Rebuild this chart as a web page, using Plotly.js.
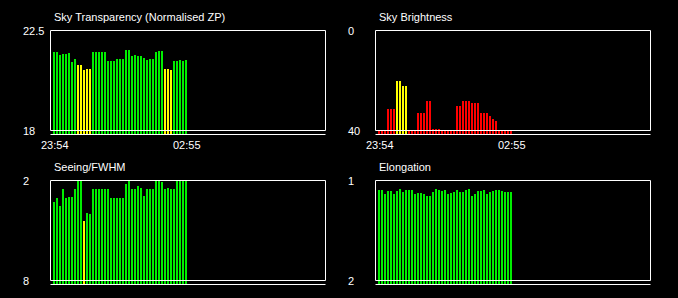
<!DOCTYPE html>
<html>
<head>
<meta charset="utf-8">
<script src="https://cdn.plot.ly/plotly-3.0.1.min.js"></script>
<style>html,body{margin:0;padding:0;background:#000;}#chart{width:678px;height:298px;}</style>
</head>
<body>
<div id="chart"></div>
<script>
// ---- data ----
var timeLabels = ["23:54", "02:55"];
var timeLabelIdx = [0, 44];

var transparency = [21.55,21.55,21.42,21.46,21.46,21.51,21.10,21.24,20.97,20.97,
                    20.74,20.79,20.79,21.55,21.55,21.55,21.55,21.55,21.15,21.15,
                    21.15,21.24,21.24,21.24,21.64,21.64,21.37,21.42,21.37,21.37,
                    21.28,21.19,21.24,21.24,21.55,21.60,21.60,20.79,20.79,20.74,
                    21.15,21.15,21.19,21.15,21.19];
var transparencyFlag = ["g","g","g","g","g","g","g","g","w","w",
                        "w","w","w","g","g","g","g","g","g","g",
                        "g","g","g","g","g","g","g","g","g","g",
                        "g","g","g","g","g","g","g","w","w","w",
                        "g","g","g","g","g"];

var brightness = [40,40,40,31.2,31.2,31.2,20,20,22,22,
                  40,40,40,32.8,32.8,32.8,28,28,39.2,39.2,
                  39.2,40,40,40,40,40,30,30,28,28,
                  28,28.8,28.8,28.8,32.8,32.8,32.8,34,35.2,36,
                  40,40,40,40,40];
var brightnessFlag = ["b","b","b","b","b","b","w","w","w","w",
                      "b","b","b","b","b","b","b","b","b","b",
                      "b","b","b","b","b","b","b","b","b","b",
                      "b","b","b","b","b","b","b","b","b","b",
                      "b","b","b","b","b"];

var seeing = [3.26,3.02,3.50,2.48,3.02,2.96,2.96,2.48,2.00,2.00,
              4.40,3.92,3.98,2.48,2.48,2.48,2.48,2.48,2.48,3.02,
              3.02,3.02,3.02,3.02,2.18,2.00,2.48,2.48,2.30,2.42,
              2.90,2.48,2.48,2.48,2.00,2.00,2.06,2.48,2.42,2.48,
              2.48,2.00,2.00,2.00,2.00];
var seeingFlag = ["g","g","g","g","g","g","g","g","g","g",
                  "w","g","g","g","g","g","g","g","g","g",
                  "g","g","g","g","g","g","g","g","g","g",
                  "g","g","g","g","g","g","g","g","g","g",
                  "g","g","g","g","g"];

var elongation = [1.09,1.09,1.13,1.10,1.10,1.13,1.10,1.08,1.11,1.09,
                  1.09,1.09,1.13,1.12,1.12,1.13,1.15,1.15,1.11,1.08,
                  1.09,1.10,1.09,1.13,1.12,1.11,1.09,1.11,1.11,1.09,
                  1.08,1.15,1.13,1.10,1.10,1.09,1.13,1.11,1.10,1.09,
                  1.09,1.10,1.11,1.11,1.11];
var elongationFlag = elongation.map(function(){ return "g"; });

var titles = ["Sky Transparency (Normalised ZP)", "Sky Brightness", "Seeing/FWHM", "Elongation"];
var axisTop = [22.5, 0, 2, 1];     // value at top of frame
var axisBottom = [18, 40, 8, 2];   // value at bottom of frame
var axisTopLabel = ["22.5", "0", "2", "1"];
var axisBottomLabel = ["18", "40", "8", "2"];

// ---- styling / layout ----
var W = 678, H = 298;
var colorMap = {g: "#00ee00", w: "#ffff00", b: "#ff0000"};
var series = [transparency, brightness, seeing, elongation];
var flags = [transparencyFlag, brightnessFlag, seeingFlag, elongationFlag];
var frameLeft = [50.5, 375.5, 50.5, 375.5];
var frameTop = [30.5, 30.5, 180.5, 180.5];
var frameW = 275, frameH = 100;
var pitch = 3, firstOff = 3.5; // px from frame line to first bar centre
var pad = 2;
var font = "Liberation Sans, Arial, sans-serif";

var data = [], shapes = [], annotations = [];
var layout = {
  width: W, height: H, margin: {l:0, r:0, t:0, b:0},
  paper_bgcolor: "#000", plot_bgcolor: "#000",
  showlegend: false, bargap: 0,
  font: {family: font, size: 11, color: "#fff"}
};

for (var k = 0; k < 4; k++) {
  var n = k + 1;
  var xa = "x" + (k === 0 ? "" : n), ya = "y" + (k === 0 ? "" : n);
  var xKey = "xaxis" + (k === 0 ? "" : n), yKey = "yaxis" + (k === 0 ? "" : n);
  var L = frameLeft[k], T = frameTop[k];
  var c0 = L + firstOff;
  var xv = function(px){ return (px - c0) / pitch; };
  var tv = axisTop[k], bv = axisBottom[k];
  var yv = (function(tv, bv, T){ return function(py){ return tv + (py - T) / frameH * (bv - tv); }; })(tv, bv, T);
  var domX0 = L - pad, domX1 = L + frameW + pad;
  var domYtop = T - pad, domYbot = T + frameH + 4.5;
  layout[xKey] = {domain: [domX0 / W, domX1 / W], range: [xv(domX0), xv(domX1)],
    showgrid: false, zeroline: false, showline: false, showticklabels: false, ticks: "", anchor: ya, fixedrange: true};
  layout[yKey] = {domain: [1 - domYbot / H, 1 - domYtop / H], range: [yv(domYbot), yv(domYtop)],
    showgrid: false, zeroline: false, showline: false, showticklabels: false, ticks: "", anchor: xa, fixedrange: true};
  var base = yv(domYbot + 3);
  var vals = series[k];
  data.push({
    type: "bar", xaxis: xa, yaxis: ya,
    x: vals.map(function(v, i){ return i; }),
    y: vals.map(function(v){ return v - base; }),
    base: base, width: 2 / pitch,
    marker: {color: flags[k].map(function(f){ return colorMap[f]; }), line: {width: 0}},
    hoverinfo: "skip"
  });
  // frame
  shapes.push({type: "rect", xref: xa, yref: ya, x0: xv(L), x1: xv(L + frameW), y0: tv, y1: bv,
    line: {color: "#fff", width: 1}, layer: "above"});
  shapes.push({type: "line", xref: xa, yref: ya, x0: xv(L), x1: xv(L + frameW), y0: yv(T + frameH + 4), y1: yv(T + frameH + 4),
    line: {color: "#fff", width: 1}, layer: "above"});
  // title
  var labX = (k % 2 === 0) ? 21 : 346;
  annotations.push({text: titles[k], xref: "paper", yref: "paper", x: (L + 1.5) / W, y: 1 - (T - 13.5) / H,
    xanchor: "left", yanchor: "middle", showarrow: false, font: {size: 11, color: "#fff"}});
  annotations.push({text: axisTopLabel[k], xref: "paper", yref: ya, x: labX / W, y: tv,
    xanchor: "left", yanchor: "middle", showarrow: false, font: {size: 11, color: "#fff"}});
  annotations.push({text: axisBottomLabel[k], xref: "paper", yref: ya, x: labX / W, y: bv,
    xanchor: "left", yanchor: "middle", showarrow: false, font: {size: 11, color: "#fff"}});
  if (k < 2) {
    for (var j = 0; j < timeLabels.length; j++) {
      annotations.push({text: timeLabels[j], xref: xa, yref: "paper", x: timeLabelIdx[j] + 0.4, y: 1 - (T + frameH + 14.5) / H,
        xanchor: "center", yanchor: "middle", showarrow: false, font: {size: 11, color: "#fff"}});
    }
  }
}
layout.shapes = shapes;
layout.annotations = annotations;
Plotly.newPlot("chart", data, layout, {staticPlot: true, displayModeBar: false});
</script>
</body>
</html>
